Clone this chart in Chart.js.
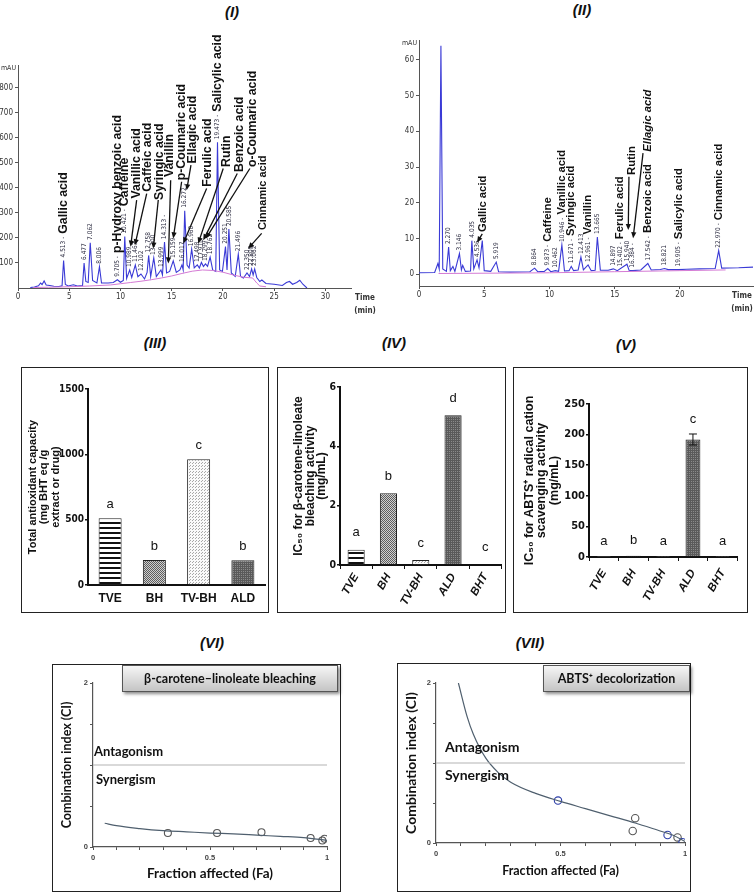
<!DOCTYPE html>
<html><head><meta charset="utf-8">
<script src="https://cdn.jsdelivr.net/npm/chart.js@4.4.1/dist/chart.umd.min.js"></script>
<style>
html,body{margin:0;padding:0;background:#fff;overflow:hidden;}
body{width:756px;height:893px;position:relative;font-family:'Liberation Sans',Arial,sans-serif;}
.pt{position:absolute;font-style:italic;font-weight:bold;font-size:15px;line-height:18px;transform:translateX(-50%);color:#111;white-space:nowrap;}
.frame{position:absolute;border:1.5px solid #222;box-sizing:border-box;}
canvas{position:absolute;}
.lbl{position:absolute;box-sizing:border-box;border:1px solid #555;background:linear-gradient(#f6f6f6,#c4c4c4);box-shadow:2px 2px 3px rgba(0,0,0,.45);font-family:Lato,'Open Sans',sans-serif;font-weight:bold;font-size:12.5px;display:flex;align-items:center;justify-content:center;color:#111;}
</style></head><body>
<div class="pt" style="left:232px;top:3px">(I)</div>
<div class="pt" style="left:582px;top:1px">(II)</div>
<div class="pt" style="left:155px;top:334px">(III)</div>
<div class="pt" style="left:394px;top:334px">(IV)</div>
<div class="pt" style="left:626px;top:336px">(V)</div>
<div class="pt" style="left:212px;top:634px">(VI)</div>
<div class="pt" style="left:530px;top:634px">(VII)</div>
<div class="frame" style="left:21px;top:367px;width:248px;height:246px"></div>
<div class="frame" style="left:277px;top:367px;width:229px;height:246px"></div>
<div class="frame" style="left:513px;top:367px;width:235px;height:246px"></div>
<div class="frame" style="left:52px;top:664px;width:289px;height:228px"></div>
<div class="frame" style="left:397px;top:663px;width:294px;height:229px"></div>
<script>
// ---------------- DATA ----------------
// Panel I : HPLC chromatogram of the extract (time min, mAU)
const chromI_time = [1.2,1.6,2.0,2.2,2.35,2.55,2.75,3.1,3.5,4.0,4.3,4.45,4.62,4.9,5.4,5.8,6.3,6.45,6.62,6.85,7.05,7.28,7.7,7.95,8.15,8.8,9.3,9.7,10.0,10.28,10.42,10.6,10.9,11.1,11.45,11.7,12.0,12.35,12.6,12.75,12.95,13.25,13.5,13.95,14.1,14.3,14.5,14.8,15.15,15.45,15.8,16.0,16.12,16.27,16.5,16.7,16.95,17.2,17.5,17.7,17.9,18.1,18.3,18.5,18.75,19.0,19.3,19.47,19.68,19.95,20.25,20.4,20.58,20.82,21.2,21.5,21.72,22.0,22.35,22.6,22.8,22.95,23.1,23.3,23.6,23.8,24.2,25.0,25.8,26.2,26.5,26.8,27.2,27.5,27.8,28.2];
const chromI_mAU  = [2,4,9,20,14,28,12,10,7,6,9,110,14,8,13,8,10,100,26,22,180,30,20,85,20,20,22,33,23,30,205,38,72,42,92,45,56,36,62,130,46,120,46,72,52,183,60,66,108,62,72,92,72,308,92,80,155,80,92,80,102,86,96,86,123,72,66,582,72,66,165,72,235,60,46,135,46,40,60,46,76,52,76,42,26,32,18,15,10,22,26,15,22,31,15,0];
const baseI_time = [1.5,3,5,7,9,10,11,12,13,14,15,16,17,18,19,20,21,22,22.9,23.3,23.6,24.2];
const baseI_mAU  = [2,3,5,8,12,17,22,27,33,40,48,58,67,72,70,63,52,43,40,20,8,5];
const ticksI_time = [0,5,10,15,20,25,30];
const ticksI_mAU  = [100,200,300,400,500,600,700,800];
// retention-time labels: [text, time, apex mAU, compound name]
const rtI = [['4.513 -',4.45,110,'Gallic acid'],['6.477',6.45,100],['7.062',7.05,180],['8.006',7.95,85],['9.705 -',9.7,33,'p-Hydroxy benzoic acid'],['10.421 -',10.42,205,'Caffeine'],['10.989',10.9,72],['11.463',11.45,92],['12.102',12.0,56],['12.758',12.75,130],['13.300',13.25,120],['13.999',13.95,72],['14.313 -',14.3,183],['15.159',15.15,108],['16.017',16.0,92],['16.272 -',16.27,308],['16.960',16.95,155],['17.498',17.5,92],['17.910',17.9,102],['18.299',18.3,96],['18.762',18.75,123],['19.473 -',19.47,582,'Salicylic acid'],['20.251',20.25,165],['20.585',20.58,235],['21.496',21.5,135],['22.350',22.35,60],['22.805',22.8,76],['23.062',23.1,76]];
const namesI = [['Vanillic acid',11.58,357],['Caffeic acid',12.65,384],['Syringic acid',13.85,351],['Vanillin',14.83,443],['p-Coumaric acid',15.97,430],['Ellagic acid',17.04,497],['Ferulic acid',18.47,404],['Rutin',20.36,483],['Benzoic acid',21.59,463],['o-Coumaric acid',22.9,483],['Cinnamic acid',23.93,231]];
const arrowsI = [[11.58,351,10.99,165],[12.56,377,11.41,171],[13.69,351,13.2,158],[14.9,430,14.67,98],[15.97,424,15.15,198],[16.88,490,16.46,390],[18.41,397,16.13,178],[20.03,477,17.59,178],[21.4,457,18.08,191],[22.63,477,18.34,198],[23.78,218,22.47,158]];

// Panel II : HPLC chromatogram of standards (time min, mAU)
const chromII_time = [0,1.2,1.45,1.55,1.68,1.82,2.1,2.27,2.4,2.6,2.75,3.1,3.25,3.35,3.55,3.95,4.05,4.2,4.45,4.6,4.85,5.0,5.5,5.92,6.1,7.0,8.5,8.86,9.1,9.6,9.87,10.1,10.45,10.7,10.95,11.15,11.5,11.67,11.85,12.2,12.41,12.6,12.96,13.2,13.5,13.67,13.9,14.5,14.9,15.2,15.94,16.1,16.38,17.0,17.54,17.8,18.5,18.82,19.1,19.9,20.5,21.5,22.7,22.97,23.2,24.5,25.6];
const chromII_mAU  = [0.4,0.5,3,1.5,64,1.5,0.8,7.6,1,2.2,0.8,5.8,1.2,2.5,0.8,0.9,9.4,1.5,4,1.8,9.4,1.0,0.8,3.4,0.7,0.6,0.7,1.7,0.7,0.8,1.6,0.7,1.0,0.8,8.2,0.9,1.0,2.2,1.0,1.2,4.8,1.2,2.6,1.0,1.1,10.4,1.1,1.1,1.5,1.0,2.8,1.1,1.0,1.2,3.0,1.2,1.3,1.6,1.3,1.3,1.4,1.5,1.6,6.6,1.7,1.8,2.0];
const baseII_time = [1.5,10,15,20,23.5];
const baseII_mAU  = [0.2,0.4,0.7,1.0,1.2];
const ticksII_time = [0,5,10,15,20];
const ticksII_mAU  = [0,10,20,30,40,50,60];
const rtII = [['2.270',2.27,7.6],['3.146',3.1,5.8],['4.035',4.05,9.4],['4.536',4.45,4.0],['5.919',5.92,3.4],['8.864',8.86,1.7],['9.873 -',9.87,1.6,'Caffeine'],['10.462',10.45,1.0],['10.946 -',10.95,8.2,'Vanillic acid'],['11.671 -',11.67,2.2,'Syringic acid'],['12.413',12.41,4.8],['12.961 -',12.96,2.6,'Vanillin'],['13.665',13.67,10.4],['14.897',14.9,1.5],['15.402 -',15.4,1.3,'Ferulic acid'],['15.940',15.94,2.8],['16.384 -',16.38,1.0],['17.542 -',17.54,3.0,'Benzoic acid'],['18.821',18.82,1.6],['19.905 -',19.9,1.3,'Salicylic acid'],['22.970 -',22.97,6.6,'Cinnamic acid']];
const namesII = [['Gallic acid',4.87,11.8],['Rutin',16.29,27.8],['Ellagic acid',17.55,34.3,'italic']];
const arrowsII = [[4.85,11.3,4.45,8.9],[16.09,27.3,16.04,12.4],[17.17,33.9,16.41,10.1]];

// Panel III-V : bar charts
const catsIII = ['TVE','BH','TV-BH','ALD'];
const valsIII = [510,191,962,190];
const lettersIII = ['a','b','c','b'];
const catsIV = ['TVE','BH','TV-BH','ALD','BHT'];
const valsIV = [0.51,2.42,0.17,5.05,0.02];
const lettersIV = ['a','b','c','d','c'];
const catsV = ['TVE','BH','TV-BH','ALD','BHT'];
const valsV = [0.5,2.0,0.5,192,0.3];
const errV = [0,0,0,9,0];
const lettersV = ['a','b','a','c','a'];

// Panel VI-VII : combination index plots
const refFa = [0,1];
const refCI = [1,1];
const curveVI_fa = [0.05,0.1,0.2,0.3,0.4,0.5,0.6,0.7,0.8,0.9,1.0];
const curveVI_ci = [0.29,0.26,0.225,0.2,0.185,0.17,0.16,0.145,0.13,0.115,0.08];
const ptsVI_fa = [0.32,0.53,0.72,0.93,0.98,0.99];
const ptsVI_ci = [0.17,0.17,0.18,0.11,0.08,0.10];
const curveVII_fa = [0.09,0.125,0.15,0.2,0.25,0.3,0.4,0.5,0.6,0.7,0.8,0.9,0.95,1.0];
const curveVII_ci = [2.0,1.58,1.36,1.06,0.88,0.76,0.62,0.52,0.43,0.34,0.25,0.15,0.10,0.02];
const ptsVII_fa = [0.49,0.80,0.79,0.93,0.97,0.99];
const ptsVII_ci = [0.53,0.31,0.15,0.10,0.07,0.01];

// ---------------- RENDER ----------------
const SANS = "'Liberation Sans', Arial, sans-serif";
const NARROW = "'Liberation Sans Narrow','DejaVu Sans Condensed','Liberation Sans',sans-serif";
const LATO = "Lato,'Open Sans',sans-serif";
Chart.defaults.font.family = SANS;
Chart.defaults.color = '#222';
Chart.defaults.animation = false;

function mk(l,t,w,h){const c=document.createElement('canvas');c.width=w;c.height=h;c.style.left=l+'px';c.style.top=t+'px';c.style.width=w+'px';c.style.height=h+'px';document.body.appendChild(c);return c;}
function xy(a,b){return a.map((v,i)=>({x:v,y:b[i]}));}
function arrow(ctx,x1,y1,x2,y2){
  const ang=Math.atan2(y2-y1,x2-x1),L=6,W=2.6;
  ctx.strokeStyle='#111';ctx.fillStyle='#111';ctx.lineWidth=1.3;
  ctx.beginPath();ctx.moveTo(x1,y1);ctx.lineTo(x2-Math.cos(ang)*L*0.8,y2-Math.sin(ang)*L*0.8);ctx.stroke();
  ctx.beginPath();ctx.moveTo(x2,y2);
  ctx.lineTo(x2-L*Math.cos(ang)+W*Math.sin(ang),y2-L*Math.sin(ang)-W*Math.cos(ang));
  ctx.lineTo(x2-L*Math.cos(ang)-W*Math.sin(ang),y2-L*Math.sin(ang)+W*Math.cos(ang));
  ctx.closePath();ctx.fill();
}
function vtext(ctx,s,x,y,font,color){ctx.save();ctx.translate(x,y);ctx.rotate(-Math.PI/2);ctx.font=font;ctx.fillStyle=color;ctx.textAlign='left';ctx.textBaseline='middle';ctx.fillText(s,0,0);ctx.restore();}

function chromAnnot(rt,names,arrows,ex){
  return {id:'chromAnnot',afterDatasetsDraw(chart){
    const ctx=chart.ctx,xs=chart.scales.x,ys=chart.scales.y,ca=chart.chartArea;
    ctx.save();
    rt.forEach(r=>{
      const x=xs.getPixelForValue(r[1]),y=ys.getPixelForValue(r[2])-3;
      ctx.font=ex.rtFont;const w=ctx.measureText(r[0]).width;
      vtext(ctx,r[0],x,y,ex.rtFont,'#2b2b40');
      if(r[3]) vtext(ctx,r[3],x,y-w-3,ex.nameFont,'#111');
    });
    names.forEach(n=>{
      let f=ex.nameFont;
      if(n[3]==='italic') f='italic '+f;
      if(n[0]==='Cinnamic acid'&&ex.small) f=ex.small;
      vtext(ctx,n[0],xs.getPixelForValue(n[1]),ys.getPixelForValue(n[2]),f,'#111');
    });
    arrows.forEach(a=>arrow(ctx,xs.getPixelForValue(a[0]),ys.getPixelForValue(a[1]),xs.getPixelForValue(a[2]),ys.getPixelForValue(a[3])));
    ctx.fillStyle='#333';ctx.font="7px "+NARROW;ctx.textAlign='right';ctx.textBaseline='middle';
    ctx.fillText('mAU',ca.left-2,ca.top+3);
    ctx.textAlign='center';ctx.font="bold 8px "+NARROW;
    ctx.fillText('Time',ca.right+ex.timeDx,ca.bottom+10);
    ctx.fillText('(min)',ca.right+ex.timeDx,ca.bottom+23);
    ctx.restore();
  }};
}

function chrom(c){
  const cv=mk(c.left,c.top,c.w,c.h);
  return new Chart(cv,{type:'line',
    data:{datasets:[
      {data:xy(c.bt,c.by),borderColor:'#d47ad4',borderWidth:1,pointRadius:0,tension:0},
      {data:xy(c.t,c.y),borderColor:'#3a3ad6',borderWidth:1.1,pointRadius:0,tension:0}
    ]},
    options:{responsive:false,devicePixelRatio:1,animation:false,
      layout:{padding:c.pad},
      plugins:{legend:{display:false},tooltip:{enabled:false}},
      scales:{
        x:{type:'linear',min:0,max:c.xmax,afterFit:s=>{s.height=c.xh;},
          afterBuildTicks:s=>{s.ticks=c.xt.map(v=>({value:v}));},
          border:{color:'#555',width:1},grid:{drawOnChartArea:false,tickLength:3,color:'#555'},
          ticks:{maxRotation:0,autoSkip:false,padding:1,color:'#333',font:{family:NARROW,size:8},callback:v=>String(v)}},
        y:{type:'linear',min:c.ymin,max:c.ymax,afterFit:s=>{s.width=c.yw;},
          afterBuildTicks:s=>{s.ticks=c.yt.map(v=>({value:v}));},
          border:{color:'#555',width:1},grid:{drawOnChartArea:false,tickLength:3,color:'#555'},
          ticks:{autoSkip:false,padding:2,color:'#333',font:{family:NARROW,size:8},callback:v=>String(v)}}
      }},
    plugins:[chromAnnot(c.rt,c.names,c.arrows,c.ex)]
  });
}

chrom({left:0,top:0,w:378,h:318,pad:{left:0,right:27,top:65,bottom:8},xh:22,yw:18,
  xmax:32.5,xt:ticksI_time,ymin:0,ymax:890,yt:ticksI_mAU,
  t:chromI_time,y:chromI_mAU,bt:baseI_time,by:baseI_mAU,rt:rtI,names:namesI,arrows:arrowsI,
  ex:{rtFont:"6.5px "+NARROW,nameFont:"bold 12.3px "+SANS,small:"bold 11px "+SANS,timeDx:14}});
chrom({left:378,top:0,w:378,h:318,pad:{left:0,right:3,top:40,bottom:8},xh:24,yw:41,
  xmax:25.6,xt:ticksII_time,ymin:-3.3,ymax:65.6,yt:ticksII_mAU,
  t:chromII_time,y:chromII_mAU,bt:baseII_time,by:baseII_mAU,rt:rtII,names:namesII,arrows:arrowsII,
  ex:{rtFont:"6.5px "+NARROW,nameFont:"bold 11.3px "+SANS,timeDx:-11}});

// patterns for bars
function pat(kind){
  const c=document.createElement('canvas');const g=c.getContext('2d');
  if(kind==='stripes'){c.width=4;c.height=5;g.fillStyle='#fff';g.fillRect(0,0,4,5);g.fillStyle='#111';g.fillRect(0,0,4,2);}
  else if(kind==='mid'){c.width=2;c.height=2;g.fillStyle='#cfcfcf';g.fillRect(0,0,2,2);g.fillStyle='#5e5e5e';g.fillRect(0,0,1,1);g.fillRect(1,1,1,1);}
  else if(kind==='light'){c.width=3;c.height=3;g.fillStyle='#fafafa';g.fillRect(0,0,3,3);g.fillStyle='#a8a8a8';g.fillRect(0,0,1,1);g.fillRect(1,2,1,1);}
  else {c.width=2;c.height=2;g.fillStyle='#5a5a5a';g.fillRect(0,0,2,2);g.fillStyle='#8a8a8a';g.fillRect(0,0,1,1);}
  return document.createElement('canvas').getContext('2d').createPattern(c,'repeat');
}
const P={stripes:pat('stripes'),mid:pat('mid'),light:pat('light'),dark:pat('dark')};

function barDeco(letters,errs,off){
  return {id:'barDeco',afterDatasetsDraw(chart){
    const ctx=chart.ctx,meta=chart.getDatasetMeta(0),ys=chart.scales.y,d=chart.data.datasets[0].data;
    ctx.save();
    meta.data.forEach((el,i)=>{
      let top=el.y;
      if(errs&&errs[i]){
        const yh=ys.getPixelForValue(d[i]+errs[i]),yl=ys.getPixelForValue(d[i]-errs[i]);
        ctx.strokeStyle='#111';ctx.lineWidth=1;ctx.beginPath();
        ctx.moveTo(el.x,yl);ctx.lineTo(el.x,yh);ctx.moveTo(el.x-4,yh);ctx.lineTo(el.x+4,yh);ctx.moveTo(el.x-4,yl);ctx.lineTo(el.x+4,yl);ctx.stroke();
        top=yh;
      }
      ctx.fillStyle='#111';ctx.font="13px "+SANS;ctx.textAlign='center';ctx.textBaseline='middle';
      ctx.fillText(letters[i],el.x,top-off);
    });
    ctx.restore();
  }};
}

function bars(c){
  const cv=mk(c.left,c.top,c.w,c.h);
  return new Chart(cv,{type:'bar',
    data:{labels:c.cats,datasets:[{data:c.vals,backgroundColor:c.fills,borderColor:'#222',borderWidth:1,barPercentage:c.bp,categoryPercentage:1}]},
    options:{responsive:false,devicePixelRatio:1,animation:false,
      layout:{padding:c.pad},
      plugins:{legend:{display:false},tooltip:{enabled:false}},
      scales:{
        x:{afterFit:s=>{s.height=c.xh;},border:{color:'#111',width:2},
          grid:{display:true,drawOnChartArea:false,drawTicks:c.rot>0,tickLength:4,color:'#111'},
          ticks:{color:'#111',padding:c.xpad,minRotation:c.rot,maxRotation:c.rot,autoSkip:false,font:{size:c.xfs,weight:'bold',style:c.rot>0?'italic':'normal'}}},
        y:{min:0,max:c.ymax,afterFit:s=>{s.width=c.yw;},border:{color:'#111',width:2},
          grid:{drawOnChartArea:false,tickLength:3,color:'#111',lineWidth:1.5},
          ticks:{stepSize:c.ystep,padding:1,color:'#111',font:{family:NARROW,size:c.yfs,weight:'bold'},callback:v=>String(v)},
          title:{display:true,text:c.title,color:'#111',font:{size:c.tfs,weight:'bold',lineHeight:c.tlh},padding:{top:c.tpad,bottom:0}}}
      }},
    plugins:[barDeco(c.letters,c.errs,c.loff)]
  });
}

bars({left:21,top:367,w:248,h:246,pad:{left:0,right:4,top:22,bottom:0},xh:28,yw:67,cats:catsIII,vals:valsIII,
  fills:[P.stripes,P.mid,P.light,P.dark],bp:0.52,ymax:1500,ystep:500,yfs:10,xfs:12,xpad:6,rot:0,
  title:['Total antioxidant capacity','(mg BHT eq /g','extract or drug)'],tfs:11,tlh:1.05,tpad:6,letters:lettersIII,errs:null,loff:14});
bars({left:277,top:367,w:229,h:246,pad:{left:0,right:4.5,top:20,bottom:0},xh:48,yw:63,cats:catsIV,vals:valsIV,
  fills:[P.stripes,P.mid,P.light,P.dark,P.light],bp:0.53,ymax:6,ystep:2,yfs:10.5,xfs:11.5,xpad:2,rot:60,
  title:['IC\u2085\u2080 for \u03b2-carotene-linoleate','bleaching activity','(mg/mL)'],tfs:12,tlh:0.96,tpad:16,letters:lettersIV,errs:null,loff:17});
bars({left:513,top:367,w:235,h:246,pad:{left:0,right:10.5,top:37,bottom:0},xh:56,yw:76,cats:catsV,vals:valsV,
  fills:[P.stripes,P.mid,P.light,P.dark,P.light],bp:0.5,ymax:250,ystep:50,yfs:11,xfs:11.5,xpad:6,rot:60,
  title:['IC\u2085\u2080 for ABTS\u207a radical cation','scavenging activity','(mg/mL)'],tfs:12.5,tlh:1.0,tpad:10,letters:lettersV,errs:errV,loff:15});

// combination index plots
function ciNotes(notes){
  return {id:'ciNotes',afterDatasetsDraw(chart){
    const ctx=chart.ctx,xs=chart.scales.x,ys=chart.scales.y;
    ctx.save();ctx.fillStyle='#111';ctx.textAlign='left';ctx.textBaseline='middle';
    notes.forEach(n=>{ctx.font=n[3];ctx.fillText(n[0],xs.getPixelForValue(n[1]),ys.getPixelForValue(n[2]));});
    ctx.restore();
  }};
}
function near(v,t){return Math.abs(v-t)<1e-6;}
function ci(c){
  const cv=mk(c.left,c.top,c.w,c.h);
  return new Chart(cv,{type:'scatter',
    data:{datasets:[
      {data:xy(refFa,refCI),showLine:true,borderColor:'#b4b4b4',borderWidth:1.2,pointRadius:0},
      {data:xy(c.cfa,c.cci),showLine:true,borderColor:'#4f5f6e',borderWidth:1.2,pointRadius:0,cubicInterpolationMode:'monotone'},
      {data:xy(c.pfa,c.pci),showLine:false,pointRadius:c.pr,pointBackgroundColor:'rgba(255,255,255,0)',pointBorderColor:c.pcol,pointBorderWidth:1.1}
    ]},
    options:{responsive:false,devicePixelRatio:1,animation:false,
      layout:{padding:c.pad},
      plugins:{legend:{display:false},tooltip:{enabled:false}},
      scales:{
        x:{type:'linear',min:0,max:1,afterFit:s=>{s.height=c.xh;},border:{color:'#555',width:1.2},
          grid:{drawOnChartArea:false,tickLength:3,color:'#555'},
          ticks:{stepSize:0.1,autoSkip:false,maxRotation:0,padding:3,color:'#444',font:{size:7.5,weight:'bold'},
            callback:v=>near(v,0)?'0':near(v,0.5)?'0.5':near(v,1)?'1':''},
          title:{display:true,text:'Fraction affected (Fa)',color:'#111',font:{family:LATO,size:c.xtfs,weight:'bold',lineHeight:1},padding:{top:0,bottom:c.xtpad}}},
        y:{type:'linear',min:0,max:2,afterFit:s=>{s.width=c.yw;},border:{color:'#555',width:1.2},
          grid:{drawOnChartArea:false,tickLength:3,color:'#555'},
          ticks:{stepSize:0.5,padding:2,color:'#444',font:{size:7.5,weight:'bold'},
            callback:v=>near(v,0)?'0':near(v,2)?'2':''},
          title:{display:true,text:'Combination index (CI)',color:'#111',font:{family:LATO,size:c.ytfs,weight:'bold',lineHeight:1},padding:{top:c.ytpad,bottom:0}}}
      }},
    plugins:[ciNotes(c.notes)]
  });
}
ci({left:52,top:664,w:289,h:228,pad:{left:0,right:14,top:19,bottom:0},xh:45,yw:41,
  cfa:curveVI_fa,cci:curveVI_ci,pfa:ptsVI_fa,pci:ptsVI_ci,pr:3.5,pcol:'#555',
  xtfs:13.5,xtpad:12,ytfs:12.5,ytpad:9,
  notes:[['Antagonism',0.004,1.16,"bold 13px "+LATO],['Synergism',0.013,0.82,"bold 13px "+LATO]]});
ci({left:397,top:663,w:294,h:229,pad:{left:0,right:6,top:20,bottom:0},xh:49,yw:39,
  cfa:curveVII_fa,cci:curveVII_ci,pfa:ptsVII_fa,pci:ptsVII_ci,pr:3.7,pcol:['#2d3fa8','#555','#555','#2d3fa8','#555','#2d3fa8'],
  xtfs:12.5,xtpad:15,ytfs:14,ytpad:7,
  notes:[['Antagonism',0.036,1.19,"bold 14px "+LATO],['Synergism',0.036,0.84,"bold 14px "+LATO]]});
</script>
<div class="lbl" style="left:122px;top:665px;width:216px;height:27px">β-carotene–linoleate bleaching</div>
<div class="lbl" style="left:543px;top:665px;width:147px;height:27px">ABTS⁺ decolorization</div>
</body></html>
